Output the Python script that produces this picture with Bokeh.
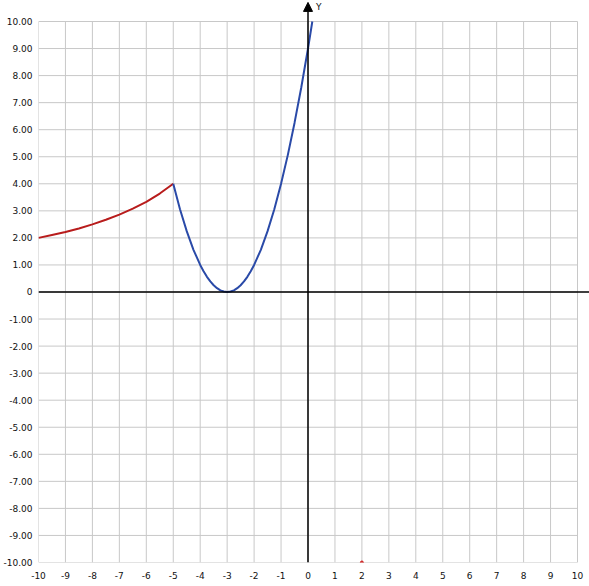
from bokeh.plotting import figure
from bokeh.models import (Range1d, FixedTicker, PrintfTickFormatter, Span, Arrow,
                          NormalHead, Label)
from bokeh.embed import file_html
from bokeh.resources import INLINE

# ---- data ----
x_ticks = list(range(-10, 11))
y_ticks = list(range(-10, 11))

red_x = [-10.0, -9.5, -9.0, -8.5, -8.0, -7.5, -7.0, -6.5, -6.0, -5.5, -5.0]
red_y = [2.00, 2.11, 2.22, 2.35, 2.50, 2.67, 2.86, 3.08, 3.33, 3.64, 4.00]

blue_x = [-5.0, -4.75, -4.5, -4.25, -4.0, -3.875, -3.75, -3.625, -3.5, -3.375, -3.25,
          -3.125, -3.0, -2.875, -2.75, -2.625, -2.5, -2.375, -2.25, -2.125, -2.0,
          -1.75, -1.5, -1.25, -1.0, -0.75, -0.5, -0.25, 0.0, 0.16]
blue_y = [4.00, 3.06, 2.25, 1.56, 1.00, 0.77, 0.56, 0.39, 0.25, 0.14, 0.06,
          0.016, 0.00, 0.016, 0.06, 0.14, 0.25, 0.39, 0.56, 0.77, 1.00,
          1.56, 2.25, 3.06, 4.00, 5.06, 6.25, 7.56, 9.00, 10.00]

dot_x = [2.0]
dot_y = [-10.0]

X_MIN, X_MAX = -10, 10
Y_MIN, Y_MAX = -10, 10

FONT = "DejaVu Sans"

p = figure(frame_width=551, frame_height=562,
           x_range=Range1d(-10, 10.445), y_range=Range1d(-10, 10.776),
           output_backend="svg", toolbar_location=None,
           min_border_left=38, min_border_right=0, min_border_top=0,
           min_border_bottom=24)
p.outline_line_color = None
p.grid.visible = False

# grid drawn from the tick lists, limited to the [-10, 10] square
p.segment(x0=x_ticks, y0=[Y_MIN] * len(x_ticks), x1=x_ticks, y1=[Y_MAX] * len(x_ticks),
          line_color="#c8c8c8", line_width=1)
p.segment(x0=[X_MIN] * len(y_ticks), y0=y_ticks, x1=[X_MAX] * len(y_ticks), y1=y_ticks,
          line_color="#c8c8c8", line_width=1)

# axes
for ax in (p.xaxis[0], p.yaxis[0]):
    ax.axis_line_color = None
    ax.major_tick_line_color = None
    ax.minor_tick_line_color = None
    ax.major_tick_out = 0
    ax.major_tick_in = 0
    ax.minor_tick_out = 0
    ax.minor_tick_in = 0
    ax.major_label_text_font = FONT
    ax.major_label_text_font_size = "9px"
    ax.major_label_text_color = "#111111"

p.xaxis[0].ticker = FixedTicker(ticks=x_ticks)
p.xaxis[0].formatter = PrintfTickFormatter(format="%d")
p.xaxis[0].major_label_standoff = 9
p.yaxis[0].ticker = FixedTicker(ticks=y_ticks)
p.yaxis[0].formatter = PrintfTickFormatter(format="%.2f")
p.yaxis[0].major_label_overrides = {0: "0"}
p.yaxis[0].major_label_standoff = 6

# axis lines through the origin
p.add_layout(Span(location=0, dimension="width", line_color="black", line_width=1.5))
p.add_layout(Arrow(end=NormalHead(size=9, fill_color="black", line_color="black"),
                   x_start=0, y_start=Y_MIN, x_end=0, y_end=p.y_range.end - 0.07,
                   line_color="black", line_width=1.5))
p.add_layout(Label(x=0, y=p.y_range.end, text="Y", x_offset=8, y_offset=-1,
                   text_baseline="top", text_font=FONT, text_font_size="9px",
                   text_color="#111111"))

# curves
p.line(red_x, red_y, line_color="#b81c1c", line_width=2)
p.line(blue_x, blue_y, line_color="#2a4aa8", line_width=2)
p.scatter(dot_x, dot_y, size=3, color="#d02020")

open("out.html", "w").write(file_html(p, INLINE))
